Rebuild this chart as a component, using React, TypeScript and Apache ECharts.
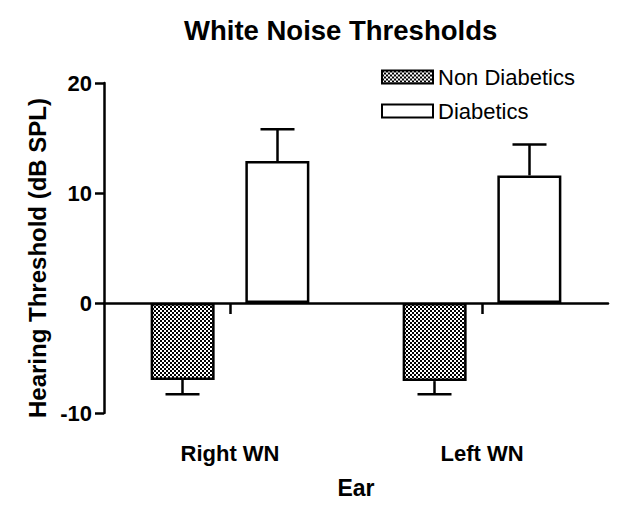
import React, { useEffect, useRef } from "react";
import * as echarts from "echarts";

const categories = ["Right WN", "Left WN"];
const seriesNames = ["Non Diabetics", "Diabetics"];
const nonDiabeticsMean = [-7.0, -7.1];
const nonDiabeticsSem = [1.3, 1.2];
const diabeticsMean = [12.9, 11.6];
const diabeticsSem = [2.9, 2.8];
const yTicks = { min: -10, max: 20, interval: 10 };

const FONT = "Liberation Sans, Arial, Helvetica, sans-serif";

function makeChecker(): HTMLCanvasElement {
  const c = document.createElement("canvas");
  c.width = 4;
  c.height = 4;
  const ctx = c.getContext("2d")!;
  ctx.fillStyle = "#ffffff";
  ctx.fillRect(0, 0, 4, 4);
  ctx.fillStyle = "#000000";
  ctx.fillRect(0, 0, 2, 2);
  ctx.fillRect(2, 2, 2, 2);
  return c;
}

export default function App() {
  const ref = useRef<HTMLDivElement>(null);
  useEffect(() => {
    document.body.style.margin = "0";
    const chart = echarts.init(ref.current!, null, { renderer: "svg" });
    const pattern = { image: makeChecker(), repeat: "repeat" };
    const BAR_W = 64;
    const OFFSET = 47.5;

    const errSeries = (name: string, means: number[], sems: number[], offset: number) => ({
      type: "custom",
      name,
      xAxisIndex: 0,
      yAxisIndex: 0,
      silent: true,
      z: 1,
      data: means.map((m, i) => [i, m, m < 0 ? m - sems[i] : m + sems[i]]),
      encode: { x: 0, y: [1, 2] },
      renderItem: (params: any, api: any) => {
        const i = api.value(0);
        const a = api.coord([i, api.value(1)]);
        const b = api.coord([i, api.value(2)]);
        const x = a[0] + offset;
        const style = { stroke: "#000", lineWidth: 2.5 };
        return {
          type: "group",
          children: [
            { type: "line", shape: { x1: x, y1: a[1], x2: x, y2: b[1] }, style },
            { type: "line", shape: { x1: x - 17, y1: b[1], x2: x + 17, y2: b[1] }, style },
          ],
        };
      },
    });

    chart.setOption({
      animation: false,
      title: {
        text: "White Noise Thresholds",
        left: 179,
        top: 11,
        textStyle: { fontFamily: FONT, fontWeight: "bold", fontSize: 27.5, color: "#000" },
      },
      legend: {
        data: seriesNames,
        orient: "vertical",
        left: 376,
        top: 61,
        itemWidth: 51,
        itemHeight: 13,
        itemGap: 12,
        icon: "rect",
        textStyle: { fontFamily: FONT, fontSize: 22, color: "#000" },
      },
      grid: { left: 104, right: 13, top: 83, bottom: 94, containLabel: false },
      xAxis: [
        {
          type: "category",
          data: categories,
          axisLine: { onZero: true, lineStyle: { color: "#000", width: 2.5 } },
          axisTick: { show: true, alignWithLabel: true, length: 11, lineStyle: { color: "#000", width: 2.5 } },
          axisLabel: { show: false },
          splitLine: { show: false },
        },
        {
          type: "category",
          data: categories,
          position: "bottom",
          axisLine: { show: false, onZero: false },
          axisTick: { show: false },
          axisLabel: { margin: 29, fontFamily: FONT, fontWeight: "bold", fontSize: 22, color: "#000" },
          name: "Ear",
          nameLocation: "middle",
          nameGap: 63,
          nameTextStyle: { fontFamily: FONT, fontWeight: "bold", fontSize: 23, color: "#000" },
        },
      ],
      yAxis: {
        type: "value",
        min: yTicks.min,
        max: yTicks.max,
        interval: yTicks.interval,
        axisLine: { show: true, lineStyle: { color: "#000", width: 2.5 } },
        axisTick: { show: true, length: 9, lineStyle: { color: "#000", width: 2.5 } },
        axisLabel: { margin: 12, fontFamily: FONT, fontWeight: "bold", fontSize: 22, color: "#000" },
        splitLine: { show: false },
        name: "Hearing Threshold (dB SPL)",
        nameLocation: "middle",
        nameGap: 49,
        nameTextStyle: { fontFamily: FONT, fontWeight: "bold", fontSize: 24, color: "#000", padding: [0, 20, 0, 0] },
      },
      series: [
        {
          type: "bar",
          name: seriesNames[0],
          data: nonDiabeticsMean,
          barWidth: BAR_W,
          barGap: "48%",
          z: 2,
          itemStyle: { color: pattern, borderColor: "#000", borderWidth: 2.5 },
        },
        {
          type: "bar",
          name: seriesNames[1],
          data: diabeticsMean,
          barWidth: BAR_W,
          z: 2,
          itemStyle: { color: "#fff", borderColor: "#000", borderWidth: 2.5 },
        },
        errSeries("errNon", nonDiabeticsMean, nonDiabeticsSem, -OFFSET),
        errSeries("errDia", diabeticsMean, diabeticsSem, OFFSET),
      ],
    });
    return () => chart.dispose();
  }, []);
  return <div ref={ref} style={{ width: 621, height: 507 }} />;
}
